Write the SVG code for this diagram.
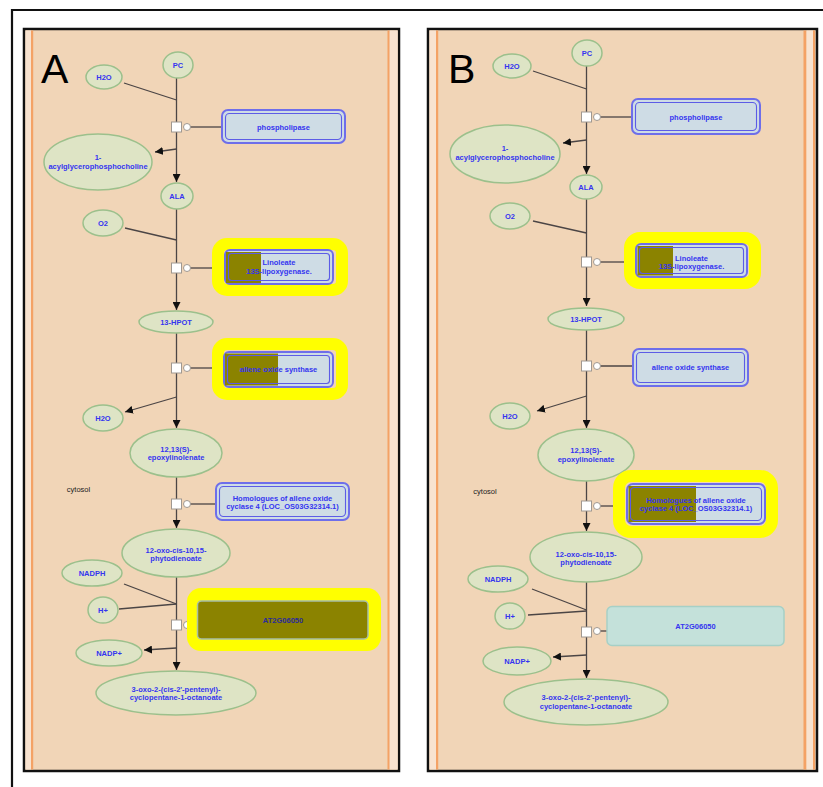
<svg xmlns="http://www.w3.org/2000/svg" width="823" height="787" viewBox="0 0 823 787">
<style>
.met{fill:#DEE4C5;stroke:#9CC08C;stroke-width:1.5}
.lbl{font-family:"Liberation Sans",Arial,sans-serif;font-weight:bold;font-size:7.5px;fill:#3434F0;text-anchor:middle}
.cyt{font-family:"Liberation Sans",Arial,sans-serif;font-size:7.5px;fill:#222;text-anchor:middle}
.big{font-family:"Liberation Sans",Arial,sans-serif;font-size:41px;fill:#000}
.edge{stroke:#4B4545;stroke-width:1.3;fill:none}
.arr{marker-end:url(#ah)}
.sq{fill:#fff;stroke:#A09890;stroke-width:1}
.hl{fill:none;stroke:#FFFF00;stroke-width:12}
.enz{fill:#CEDCE5;stroke:#6E6EEA;stroke-width:2}
.enzi{fill:none;stroke:#5C5CE6;stroke-width:1.1}
.olive{fill:#8B8300}
.panel{fill:#F1D5B7;stroke:#111;stroke-width:2.5}
.strip{fill:#F8E3D0}
.orange{fill:#F4A265}
</style>
<defs>
<marker id="ah" markerUnits="userSpaceOnUse" markerWidth="9" markerHeight="8" refX="8" refY="4" orient="auto">
<path d="M0,0 L8,4 L0,8 z" fill="#111"/>
</marker>
</defs>

<g id="outer-frame">
<path d="M12,787 L12,10 L823,10" fill="none" stroke="#111" stroke-width="2.2"/>
</g>

<!-- PANEL A -->
<g id="panelA-bg">
<rect class="panel" x="24" y="29" width="375" height="742"/>
<rect class="strip" x="25.5" y="30.5" width="5.5" height="739"/>
<rect class="orange" x="31" y="30.5" width="2.2" height="739"/>
<rect class="orange" x="387.5" y="30.5" width="2.2" height="739"/>
<rect class="strip" x="389.7" y="30.5" width="8" height="739"/>
<text class="big" x="41" y="83">A</text>
<text class="cyt" x="78.5" y="492">cytosol</text>
</g>

<g id="connectorsA">
<line class="edge arr" x1="176.5" y1="78" x2="176.5" y2="182"/>
<line class="edge" x1="124" y1="83" x2="176.5" y2="100"/>
<line class="edge arr" x1="176.5" y1="149" x2="155" y2="152"/>
<line class="edge" x1="190" y1="127" x2="222" y2="127"/>
<line class="edge arr" x1="176.5" y1="209" x2="176.5" y2="310"/>
<line class="edge" x1="125" y1="228" x2="176.5" y2="240"/>
<line class="edge" x1="190" y1="268" x2="218" y2="268"/>
<line class="edge arr" x1="176.5" y1="333" x2="176.5" y2="428"/>
<line class="edge" x1="190" y1="368" x2="218" y2="368"/>
<line class="edge arr" x1="176.5" y1="397" x2="125" y2="412"/>
<line class="edge arr" x1="176.5" y1="477" x2="176.5" y2="528"/>
<line class="edge" x1="190" y1="504" x2="216" y2="504"/>
<line class="edge arr" x1="176.5" y1="577" x2="176.5" y2="670"/>
<line class="edge" x1="124" y1="584" x2="176.5" y2="604"/>
<line class="edge" x1="119" y1="609" x2="176.5" y2="604"/>
<line class="edge" x1="190" y1="625" x2="200" y2="625"/>
<line class="edge arr" x1="176.5" y1="648" x2="144" y2="650"/>
<rect class="sq" x="171.5" y="122" width="10" height="10"/>
<circle class="sq" cx="187" cy="127" r="3.5"/>
<rect class="sq" x="171.5" y="263" width="10" height="10"/>
<circle class="sq" cx="187" cy="268" r="3.5"/>
<rect class="sq" x="171.5" y="363" width="10" height="10"/>
<circle class="sq" cx="187" cy="368" r="3.5"/>
<rect class="sq" x="171.5" y="499" width="10" height="10"/>
<circle class="sq" cx="187" cy="504" r="3.5"/>
<rect class="sq" x="171.5" y="620" width="10" height="10"/>
<circle class="sq" cx="187" cy="625" r="3.5"/>
</g>

<g id="A-H2O-1"><ellipse class="met" cx="104" cy="77" rx="18" ry="12"/><text class="lbl" x="104" y="79.5">H2O</text></g>
<g id="A-PC"><ellipse class="met" cx="178" cy="65" rx="15" ry="13"/><text class="lbl" x="178" y="67.5">PC</text></g>
<g id="A-acyl"><ellipse class="met" cx="98" cy="162" rx="54" ry="28"/><text class="lbl" x="98" y="160">1-</text><text class="lbl" x="98" y="169">acylglycerophosphocholine</text></g>
<g id="A-phospholipase"><rect class="enz" x="222" y="110" width="123" height="33" rx="6"/><rect class="enzi" x="225.5" y="113.5" width="116" height="26" rx="4"/><text class="lbl" x="283.5" y="129.5">phospholipase</text></g>
<g id="A-ALA"><ellipse class="met" cx="177" cy="196" rx="16" ry="13"/><text class="lbl" x="177" y="198.5">ALA</text></g>
<g id="A-O2"><ellipse class="met" cx="103" cy="223" rx="20" ry="13"/><text class="lbl" x="103" y="225.5">O2</text></g>
<g id="A-lipoxygenase"><rect class="hl" x="218" y="244" width="124" height="46" rx="9"/><rect class="enz" x="225" y="250" width="108" height="34" rx="5"/><rect class="olive" x="226" y="252" width="35" height="31"/><rect class="enzi" x="228.5" y="253.5" width="101" height="27" rx="3"/><text class="lbl" x="279" y="265" font-weight="normal">Linoleate</text><text class="lbl" x="279" y="273.5" font-weight="normal">13S-lipoxygenase.</text></g>
<g id="A-13HPOT"><ellipse class="met" cx="176" cy="322" rx="37" ry="11"/><text class="lbl" x="176" y="324.5">13-HPOT</text></g>
<g id="A-aos"><rect class="hl" x="218" y="344" width="124" height="50" rx="9"/><rect class="enz" x="224" y="352" width="109" height="35" rx="5"/><rect class="olive" x="225" y="353.5" width="53" height="32"/><rect class="enzi" x="227.5" y="355.5" width="102" height="28" rx="3"/><text class="lbl" x="278.5" y="372" font-weight="normal">allene oxide synthase</text></g>
<g id="A-H2O-2"><ellipse class="met" cx="103" cy="418" rx="20" ry="13"/><text class="lbl" x="103" y="420.5">H2O</text></g>
<g id="A-epoxy"><ellipse class="met" cx="176" cy="453" rx="46" ry="24"/><text class="lbl" x="176" y="451.5">12,13(S)-</text><text class="lbl" x="176" y="460">epoxylinolenate</text></g>
<g id="A-aoc"><rect class="enz" x="216" y="483" width="133" height="37" rx="6"/><rect class="enzi" x="219.5" y="486.5" width="126" height="30" rx="4"/><text class="lbl" x="282.5" y="500.5">Homologues of allene oxide</text><text class="lbl" x="282.5" y="509">cyclase 4 (LOC_OS03G32314.1)</text></g>
<g id="A-OPDA"><ellipse class="met" cx="176" cy="553" rx="54" ry="24"/><text class="lbl" x="176" y="553">12-oxo-cis-10,15-</text><text class="lbl" x="176" y="561">phytodienoate</text></g>
<g id="A-NADPH"><ellipse class="met" cx="92" cy="573" rx="30" ry="13"/><text class="lbl" x="92" y="575.5">NADPH</text></g>
<g id="A-H"><ellipse class="met" cx="103" cy="610" rx="15" ry="13"/><text class="lbl" x="103" y="612.5">H+</text></g>
<g id="A-AT2G06050"><rect x="187" y="588" width="194" height="63" rx="14" fill="#FFFF00"/><rect x="197.5" y="601" width="170.5" height="38" rx="4" fill="#8B8300" stroke="#A8BFA8" stroke-width="1.5"/><text class="lbl" x="283" y="623" style="fill:#2A2A9A">AT2G06050</text></g>
<g id="A-NADP"><ellipse class="met" cx="109" cy="653" rx="33" ry="13"/><text class="lbl" x="109" y="655.5">NADP+</text></g>
<g id="A-OPC8"><ellipse class="met" cx="176" cy="693" rx="80" ry="22"/><text class="lbl" x="176" y="692">3-oxo-2-(cis-2'-pentenyl)-</text><text class="lbl" x="176" y="700">cyclopentane-1-octanoate</text></g>

<!-- PANEL B -->
<g id="panelB-bg">
<rect class="panel" x="428" y="29" width="389" height="742"/>
<rect class="strip" x="429.5" y="30.5" width="6.5" height="739"/>
<rect class="orange" x="436" y="30.5" width="2.2" height="739"/>
<rect class="orange" x="803.5" y="30.5" width="3" height="739"/>
<rect class="strip" x="806.5" y="30.5" width="6.5" height="739"/>
<rect class="orange" x="813" y="30.5" width="2" height="739"/>
<text class="big" x="448" y="83" font-size="39">B</text>
<text class="cyt" x="485" y="494">cytosol</text>
</g>

<g id="connectorsB">
<line class="edge arr" x1="586.5" y1="66" x2="586.5" y2="174"/>
<line class="edge" x1="533" y1="71" x2="586.5" y2="89"/>
<line class="edge arr" x1="586.5" y1="140" x2="563" y2="143"/>
<line class="edge" x1="600" y1="117" x2="632" y2="117"/>
<line class="edge arr" x1="586.5" y1="199" x2="586.5" y2="306"/>
<line class="edge" x1="533" y1="221" x2="586.5" y2="233"/>
<line class="edge" x1="600" y1="262" x2="630" y2="262"/>
<line class="edge arr" x1="586.5" y1="330" x2="586.5" y2="428"/>
<line class="edge" x1="600" y1="366" x2="633" y2="366"/>
<line class="edge arr" x1="586.5" y1="396" x2="537" y2="411"/>
<line class="edge arr" x1="586.5" y1="481" x2="586.5" y2="531"/>
<line class="edge" x1="600" y1="506" x2="625" y2="506"/>
<line class="edge arr" x1="586.5" y1="582" x2="586.5" y2="678"/>
<line class="edge" x1="532" y1="589" x2="586.5" y2="610"/>
<line class="edge" x1="528" y1="615" x2="586.5" y2="611"/>
<line class="edge" x1="600" y1="631" x2="607" y2="631"/>
<line class="edge arr" x1="586.5" y1="655" x2="553" y2="657"/>
<rect class="sq" x="581.5" y="112" width="10" height="10"/>
<circle class="sq" cx="597" cy="117" r="3.5"/>
<rect class="sq" x="581.5" y="257" width="10" height="10"/>
<circle class="sq" cx="597" cy="262" r="3.5"/>
<rect class="sq" x="581.5" y="361" width="10" height="10"/>
<circle class="sq" cx="597" cy="366" r="3.5"/>
<rect class="sq" x="581.5" y="501" width="10" height="10"/>
<circle class="sq" cx="597" cy="506" r="3.5"/>
<rect class="sq" x="581.5" y="627" width="10" height="10"/>
<circle class="sq" cx="597" cy="631" r="3.5"/>
</g>

<g id="B-H2O-1"><ellipse class="met" cx="512" cy="66" rx="19" ry="12"/><text class="lbl" x="512" y="68.5">H2O</text></g>
<g id="B-PC"><ellipse class="met" cx="587" cy="53" rx="15" ry="13"/><text class="lbl" x="587" y="55.5">PC</text></g>
<g id="B-acyl"><ellipse class="met" cx="505" cy="154" rx="55" ry="29"/><text class="lbl" x="505" y="150.5">1-</text><text class="lbl" x="505" y="160">acylglycerophosphocholine</text></g>
<g id="B-phospholipase"><rect class="enz" x="632" y="99" width="128" height="35" rx="6"/><rect class="enzi" x="635.5" y="102.5" width="121" height="28" rx="4"/><text class="lbl" x="696" y="119.5">phospholipase</text></g>
<g id="B-ALA"><ellipse class="met" cx="586" cy="187" rx="16" ry="12"/><text class="lbl" x="586" y="189.5">ALA</text></g>
<g id="B-O2"><ellipse class="met" cx="510" cy="216" rx="20" ry="13"/><text class="lbl" x="510" y="218.5">O2</text></g>
<g id="B-lipoxygenase"><rect class="hl" x="630" y="238" width="125" height="45" rx="10"/><rect class="enz" x="636" y="244" width="111" height="33" rx="5"/><rect class="olive" x="637.5" y="246" width="35.5" height="29.5"/><rect class="enzi" x="639.5" y="247.5" width="104" height="26" rx="3"/><text class="lbl" x="691.5" y="260.5" font-weight="normal">Linoleate</text><text class="lbl" x="691.5" y="269" font-weight="normal">13S-lipoxygenase.</text></g>
<g id="B-13HPOT"><ellipse class="met" cx="586" cy="319" rx="38" ry="11"/><text class="lbl" x="586" y="321.5">13-HPOT</text></g>
<g id="B-aos"><rect class="enz" x="633" y="349" width="115" height="37" rx="6"/><rect class="enzi" x="636.5" y="352.5" width="108" height="30" rx="4"/><text class="lbl" x="690.5" y="370">allene oxide synthase</text></g>
<g id="B-H2O-2"><ellipse class="met" cx="510" cy="416" rx="20" ry="13"/><text class="lbl" x="510" y="418.5">H2O</text></g>
<g id="B-epoxy"><ellipse class="met" cx="586" cy="455" rx="48" ry="26"/><text class="lbl" x="586" y="453">12,13(S)-</text><text class="lbl" x="586" y="462">epoxylinolenate</text></g>
<g id="B-aoc"><rect class="hl" x="619" y="476" width="153" height="56" rx="12"/><rect class="enz" x="627" y="484" width="138" height="40" rx="6"/><rect class="olive" x="628.5" y="486" width="67.5" height="36"/><rect class="enzi" x="630.5" y="487.5" width="131" height="33" rx="4"/><text class="lbl" x="696" y="503" font-weight="normal">Homologues of allene oxide</text><text class="lbl" x="696" y="511" font-weight="normal">cyclase 4 (LOC_OS03G32314.1)</text></g>
<g id="B-OPDA"><ellipse class="met" cx="586" cy="557" rx="56" ry="25"/><text class="lbl" x="586" y="557">12-oxo-cis-10,15-</text><text class="lbl" x="586" y="565">phytodienoate</text></g>
<g id="B-NADPH"><ellipse class="met" cx="498" cy="579" rx="30" ry="13"/><text class="lbl" x="498" y="581.5">NADPH</text></g>
<g id="B-H"><ellipse class="met" cx="510" cy="616" rx="15" ry="13"/><text class="lbl" x="510" y="618.5">H+</text></g>
<g id="B-AT2G06050"><rect x="607" y="606.5" width="177" height="39" rx="5" fill="#C4E1DA" stroke="#A6D0C6" stroke-width="1.5"/><text class="lbl" x="695.5" y="629">AT2G06050</text></g>
<g id="B-NADP"><ellipse class="met" cx="517" cy="661" rx="34" ry="14"/><text class="lbl" x="517" y="663.5">NADP+</text></g>
<g id="B-OPC8"><ellipse class="met" cx="586" cy="702" rx="82" ry="23"/><text class="lbl" x="586" y="700">3-oxo-2-(cis-2'-pentenyl)-</text><text class="lbl" x="586" y="709">cyclopentane-1-octanoate</text></g>
</svg>
